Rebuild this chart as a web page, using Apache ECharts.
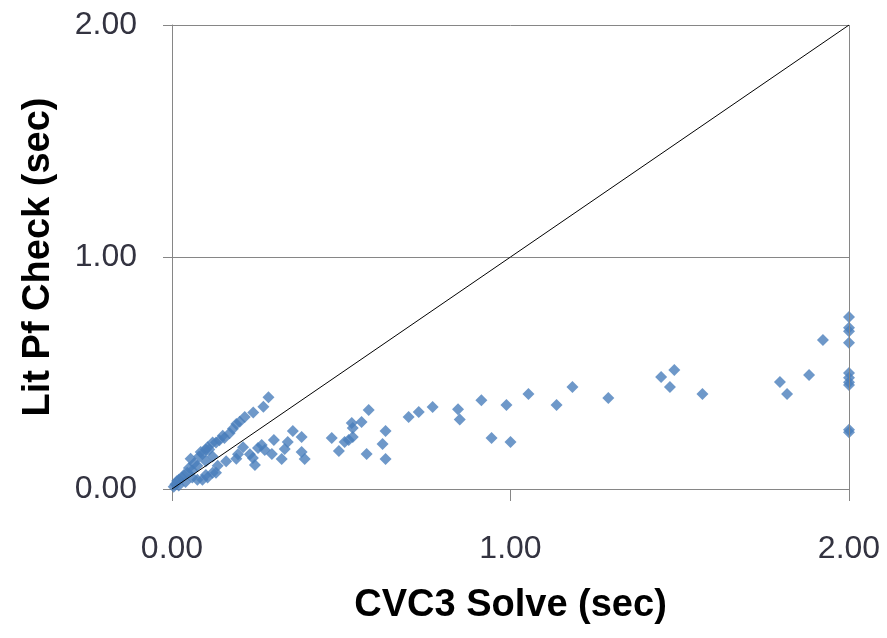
<!DOCTYPE html>
<html>
<head>
<meta charset="utf-8">
<script src="https://cdn.jsdelivr.net/npm/echarts@6/dist/echarts.min.js"></script>
<style>
    html, body { margin: 0; padding: 0; background: #fff; }
    #container { width: 887px; height: 638px; }
</style>
</head>
<body>
<div id="container"></div>
<script>
// CVC3 solve time (x) vs lit proof check time (y), seconds
let solveTimes = [
    0.005, 0.01, 0.015, 0.02, 0.03, 0.035, 0.045, 0.05, 0.055, 0.06, 0.065, 0.075, 0.08, 0.085, 0.09,
    0.1, 0.105, 0.11, 0.12, 0.13, 0.14, 0.15, 0.155, 0.17, 0.18, 0.19, 0.2, 0.215, 0.24, 0.27, 0.285,
    0.02, 0.04, 0.06, 0.075, 0.09, 0.1, 0.105, 0.12, 0.13, 0.135, 0.1, 0.12, 0.16, 0.19, 0.195, 0.21, 0.23,
    0.239, 0.245, 0.254, 0.265, 0.274, 0.295, 0.301, 0.324, 0.333, 0.342, 0.357, 0.383, 0.383, 0.392,
    0.472, 0.493, 0.51, 0.522, 0.534, 0.531, 0.534, 0.56, 0.581, 0.575, 0.622, 0.631, 0.631, 0.699, 0.729, 0.77,
    0.845, 0.85, 0.914, 0.944, 0.988, 1.0, 1.053, 1.136, 1.183, 1.289,
    1.445, 1.484, 1.471, 1.567, 1.796, 1.817, 1.882, 1.923,
    2.0, 2.0, 2.0, 2.0, 2.0, 2.0, 2.0, 2.0, 2.0, 2.0
];
let checkTimes = [
    0.01, 0.02, 0.035, 0.04, 0.05, 0.06, 0.07, 0.09, 0.13, 0.08, 0.11, 0.10, 0.14, 0.16, 0.15,
    0.17, 0.18, 0.17, 0.2, 0.2, 0.21, 0.23, 0.22, 0.24, 0.26, 0.28, 0.29, 0.31, 0.33, 0.355, 0.395,
    0.015, 0.03, 0.05, 0.04, 0.04, 0.06, 0.05, 0.07, 0.07, 0.1, 0.12, 0.14, 0.12, 0.13, 0.15, 0.18, 0.15,
    0.134, 0.103, 0.177, 0.19, 0.168, 0.151, 0.211, 0.129, 0.172, 0.203, 0.25, 0.224, 0.159, 0.129,
    0.22, 0.164, 0.203, 0.211, 0.224, 0.284, 0.263, 0.289, 0.34, 0.151, 0.194, 0.25, 0.129, 0.31, 0.332, 0.353,
    0.344, 0.30, 0.383, 0.22, 0.362, 0.203, 0.41, 0.362, 0.44, 0.392,
    0.483, 0.513, 0.44, 0.41, 0.461, 0.41, 0.491, 0.642,
    0.741, 0.695, 0.68, 0.63, 0.5, 0.48, 0.46, 0.448, 0.255, 0.245
];
// y = x reference line
let diagX = [0, 2];
let diagY = [0, 2];
let tickLabels = ['0.00', '1.00', '2.00'];

let chart = echarts.init(document.getElementById('container'));

let points = solveTimes.map((x, i) => [x, checkTimes[i]]);
let diag = diagX.map((x, i) => [x, diagY[i]]);

let axisGray = '#868686';
let labelStyle = {
    fontFamily: 'Liberation Sans',
    fontSize: 32,
    color: '#333340',
    formatter: v => tickLabels[Math.round(v)],
};
let nameStyle = {
    fontFamily: 'Liberation Sans',
    fontSize: 38,
    fontWeight: 'bold',
    color: '#000',
};

var option = {
    animation: false,
    grid: {
        left: 172,
        right: 38,
        top: 25,
        bottom: 149,
    },
    xAxis: {
        type: 'value',
        min: 0,
        max: 2,
        interval: 1,
        name: 'CVC3 Solve (sec)',
        nameLocation: 'middle',
        nameGap: 98,
        nameTextStyle: nameStyle,
        axisLine: { lineStyle: { color: axisGray, width: 1 } },
        axisTick: { show: true, length: 12, lineStyle: { color: axisGray } },
        axisLabel: Object.assign({ margin: 44 }, labelStyle),
        splitLine: { show: false },
    },
    yAxis: {
        type: 'value',
        min: 0,
        max: 2,
        interval: 1,
        name: 'Lit Pf Check (sec)',
        nameLocation: 'middle',
        nameGap: 114,
        nameTextStyle: nameStyle,
        axisLine: { show: true, lineStyle: { color: axisGray, width: 1 } },
        axisTick: { show: true, length: 9, lineStyle: { color: axisGray } },
        axisLabel: Object.assign({ margin: 35 }, labelStyle),
        splitLine: { show: true, lineStyle: { color: axisGray, width: 1 } },
    },
    series: [
        {
            type: 'scatter',
            symbol: 'diamond',
            symbolSize: 12,
            itemStyle: { color: '#4a7ebb' },
            data: points,
            z: 2,
        },
        {
            type: 'line',
            showSymbol: false,
            lineStyle: { color: '#000', width: 1 },
            data: diag,
            z: 3,
            markLine: {
                silent: true,
                symbol: 'none',
                label: { show: false },
                lineStyle: { color: axisGray, width: 1, type: 'solid' },
                data: [{ xAxis: 2 }],
            },
        },
    ],
};
chart.setOption(option);
</script>
</body>
</html>
